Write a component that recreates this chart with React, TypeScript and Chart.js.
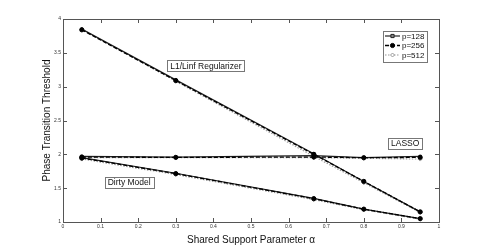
import React, { useEffect, useRef } from "react";
import { Chart, registerables } from "chart.js";

Chart.register(...registerables);

const alphaValues = [0.05, 0.3, 0.667, 0.8, 0.95];

const l1linfP128 = [3.85, 3.1, 2.01, 1.6, 1.15];
const l1linfP256 = [3.84, 3.09, 2.0, 1.6, 1.15];
const l1linfP512 = [3.85, 3.08, 1.97, 1.58, 1.14];

const lassoP128 = [1.97, 1.96, 1.98, 1.95, 1.97];
const lassoP256 = [1.96, 1.955, 1.96, 1.95, 1.955];
const lassoP512 = [1.95, 1.95, 1.95, 1.94, 1.93];

const dirtyP128 = [1.95, 1.72, 1.35, 1.19, 1.05];
const dirtyP256 = [1.945, 1.715, 1.345, 1.19, 1.05];
const dirtyP512 = [1.93, 1.7, 1.33, 1.18, 1.04];

const legendLabels = ["p=128", "p=256", "p=512"];
const xTicks = [0, 0.1, 0.2, 0.3, 0.4, 0.5, 0.6, 0.7, 0.8, 0.9, 1];
const yTicks = [1, 1.5, 2, 2.5, 3, 3.5, 4];

const annotations = [
  { text: "L1/Linf Regularizer", x: 0.38, y: 3.31 },
  { text: "LASSO", x: 0.91, y: 2.16 },
  { text: "Dirty Model", x: 0.176, y: 1.59 },
];

const styles = [
  { color: "#222", dash: [] as number[], point: "rect", radius: 1.6, width: 1.2, fill: "#888" },
  { color: "#000", dash: [4, 2], point: "circle", radius: 2.1, width: 1.3, fill: "#000" },
  { color: "#999", dash: [1.5, 1.5], point: "rectRot", radius: 2, width: 1.1, fill: "#fff" },
];

const FONT = "'Liberation Sans', Arial, Helvetica, sans-serif";

function toPoints(vals: number[]) {
  return vals.map((v, i) => ({ x: alphaValues[i], y: v }));
}

const overlayPlugin = {
  id: "overlay",
  afterDraw(chart: any) {
    const ctx = chart.ctx as CanvasRenderingContext2D;
    const { left, right, top, bottom } = chart.chartArea;
    const xs = chart.scales.x;
    const ys = chart.scales.y;
    ctx.save();
    ctx.strokeStyle = "#555";
    ctx.lineWidth = 1;
    ctx.strokeRect(Math.round(left) + 0.5, Math.round(top) + 0.5, Math.round(right - left), Math.round(bottom - top));
    const tl = 4;
    ctx.beginPath();
    xTicks.forEach((t) => {
      const px = Math.round(xs.getPixelForValue(t)) + 0.5;
      ctx.moveTo(px, bottom);
      ctx.lineTo(px, bottom - tl);
      ctx.moveTo(px, top);
      ctx.lineTo(px, top + tl);
    });
    yTicks.forEach((t) => {
      const py = Math.round(ys.getPixelForValue(t)) + 0.5;
      ctx.moveTo(left, py);
      ctx.lineTo(left + tl, py);
      ctx.moveTo(right, py);
      ctx.lineTo(right - tl, py);
    });
    ctx.stroke();

    ctx.font = `8.5px ${FONT}`;
    ctx.textAlign = "center";
    ctx.textBaseline = "middle";
    annotations.forEach((a) => {
      const cx = xs.getPixelForValue(a.x);
      const cy = ys.getPixelForValue(a.y);
      const w = ctx.measureText(a.text).width + 6;
      const h = 11;
      ctx.fillStyle = "#fff";
      ctx.fillRect(cx - w / 2, cy - h / 2, w, h);
      ctx.strokeStyle = "#777";
      ctx.strokeRect(Math.round(cx - w / 2) + 0.5, Math.round(cy - h / 2) + 0.5, Math.round(w), h);
      ctx.fillStyle = "#111";
      ctx.fillText(a.text, cx, cy + 0.5);
    });

    const lx = 383, ly = 31, lw = 44, lh = 31;
    ctx.fillStyle = "#fff";
    ctx.fillRect(lx, ly, lw, lh);
    ctx.strokeStyle = "#777";
    ctx.strokeRect(lx + 0.5, ly + 0.5, lw, lh);
    ctx.textAlign = "left";
    legendLabels.forEach((lab, i) => {
      const st = styles[i];
      const ry = ly + 5 + i * 9.5;
      ctx.strokeStyle = st.color;
      ctx.lineWidth = st.width;
      ctx.setLineDash(st.dash);
      ctx.beginPath();
      ctx.moveTo(lx + 2, ry);
      ctx.lineTo(lx + 17, ry);
      ctx.stroke();
      ctx.setLineDash([]);
      ctx.fillStyle = st.fill;
      ctx.strokeStyle = st.color;
      ctx.lineWidth = 1;
      const mx = lx + 9.5;
      ctx.beginPath();
      if (st.point === "circle") {
        ctx.arc(mx, ry, st.radius, 0, Math.PI * 2);
      } else if (st.point === "rect") {
        ctx.rect(mx - st.radius, ry - st.radius, st.radius * 2, st.radius * 2);
      } else {
        ctx.moveTo(mx, ry - st.radius);
        ctx.lineTo(mx + st.radius, ry);
        ctx.lineTo(mx, ry + st.radius);
        ctx.lineTo(mx - st.radius, ry);
        ctx.closePath();
      }
      ctx.fill();
      ctx.stroke();
      ctx.fillStyle = "#111";
      ctx.font = `8px ${FONT}`;
      ctx.fillText(lab, lx + 19, ry + 0.5);
    });

    ctx.fillStyle = "#111";
    ctx.font = `10px ${FONT}`;
    ctx.textAlign = "center";
    ctx.textBaseline = "middle";
    ctx.fillText("Shared Support Parameter \u03b1", (left + right) / 2, 240);
    ctx.translate(47, (top + bottom) / 2);
    ctx.rotate(-Math.PI / 2);
    ctx.fillText("Phase Transition Threshold", 0, 0);
    ctx.restore();
  },
};

export default function App() {
  const canvasRef = useRef<HTMLCanvasElement | null>(null);

  useEffect(() => {
    if (!canvasRef.current) return;
    const groups = [
      [l1linfP128, l1linfP256, l1linfP512],
      [lassoP128, lassoP256, lassoP512],
      [dirtyP128, dirtyP256, dirtyP512],
    ];
    const datasets: any[] = [];
    [1, 0, 2].forEach((si, rank) => {
      groups.forEach((g, gi) => {
        const st = styles[si];
        datasets.push({
          label: `${legendLabels[si]}-${gi}`,
          data: toPoints(g[si]),
          borderColor: st.color,
          borderWidth: st.width,
          borderDash: st.dash,
          pointStyle: st.point,
          pointRadius: st.radius,
          pointBackgroundColor: st.fill,
          pointBorderColor: st.color,
          pointBorderWidth: 1,
          fill: false,
          tension: 0,
          order: rank,
        });
      });
    });

    const chart = new Chart(canvasRef.current, {
      type: "line",
      data: { datasets },
      plugins: [overlayPlugin],
      options: {
        animation: false,
        responsive: false,
        maintainAspectRatio: false,
        layout: { padding: { left: 0, top: 19, right: 46, bottom: 0 } },
        plugins: { legend: { display: false }, tooltip: { enabled: false } },
        scales: {
          x: {
            type: "linear",
            min: 0,
            max: 1,
            afterFit: (s: any) => {
              s.height = 28;
            },
            afterBuildTicks: (s: any) => {
              s.ticks = xTicks.map((v) => ({ value: v }));
            },
            grid: { drawOnChartArea: false, drawTicks: false },
            border: { display: false },
            ticks: {
              padding: 2,
              color: "#333",
              font: { size: 5, family: FONT },
              maxRotation: 0,
              autoSkip: false,
              callback: (v: any) => String(Number(Number(v).toFixed(1))),
            },
          },
          y: {
            type: "linear",
            min: 1,
            max: 4,
            afterFit: (s: any) => {
              s.width = 63;
            },
            afterBuildTicks: (s: any) => {
              s.ticks = yTicks.map((v) => ({ value: v }));
            },
            grid: { drawOnChartArea: false, drawTicks: false },
            border: { display: false },
            ticks: {
              padding: 2,
              color: "#333",
              font: { size: 5, family: FONT },
              autoSkip: false,
              callback: (v: any) => String(Number(Number(v).toFixed(1))),
            },
          },
        },
      },
    });
    return () => chart.destroy();
  }, []);

  return (
    <div style={{ position: "absolute", left: 0, top: 0, width: 485, height: 250, background: "#fff" }}>
      <canvas ref={canvasRef} width={485} height={250} style={{ width: 485, height: 250, display: "block" }} />
    </div>
  );
}
